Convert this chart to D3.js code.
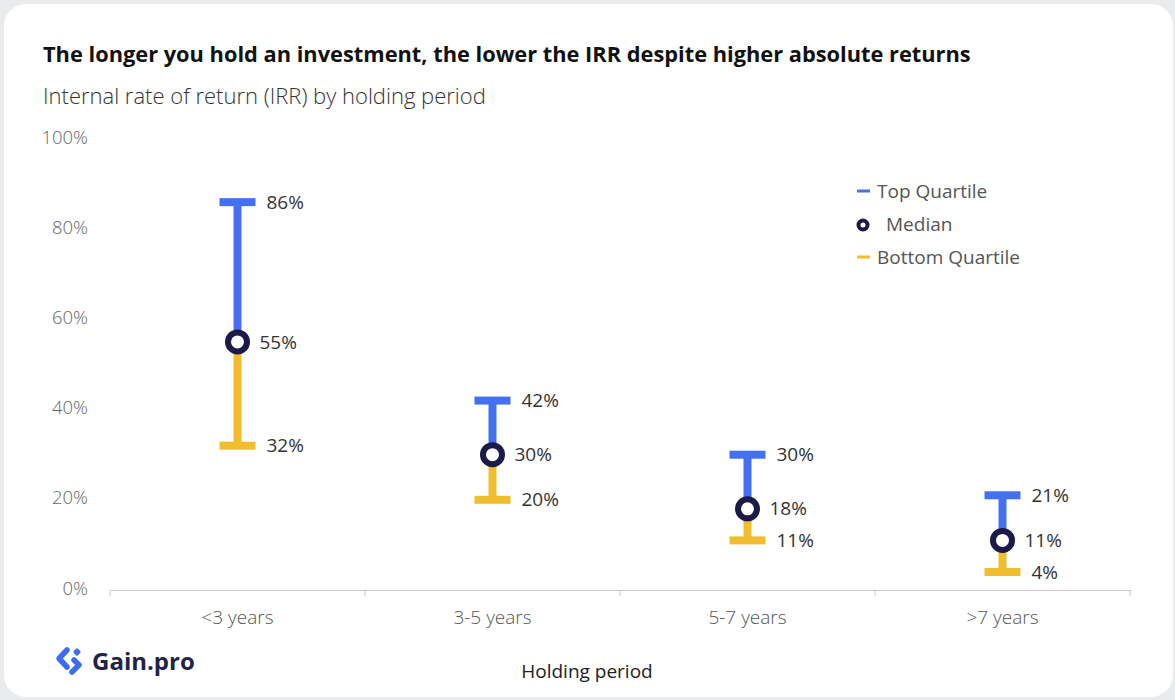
<!DOCTYPE html>
<html>
<head>
<meta charset="utf-8">
<script src="https://cdn.jsdelivr.net/npm/d3@7"></script>
<style>
  html, body { margin: 0; padding: 0; background: #e9ebed; }
  svg { display: block; }
  text { font-family: "Open Sans", "Noto Sans", sans-serif; }
</style>
</head>
<body>
<svg id="chart" width="1175" height="700"></svg>
<script>
// Holding period buckets and IRR quartiles (%)
const categories = ["<3 years", "3-5 years", "5-7 years", ">7 years"];
const topQuartile = [86, 42, 30, 21];
const median = [55, 30, 18, 11];
const bottomQuartile = [32, 20, 11, 4];
const yTicks = [0, 20, 40, 60, 80, 100];
const legendItems = ["Top Quartile", "Median", "Bottom Quartile"];

const colors = { top: "#4570f2", bottom: "#f0bd2f", median: "#1b1a48" };
const FONT = "'Open Sans', 'Noto Sans', sans-serif";

const svg = d3.select("#chart");

// white card
svg.append("rect")
  .attr("x", 4).attr("y", 4).attr("width", 1169).attr("height", 693)
  .attr("rx", 22).attr("fill", "#ffffff");

// headings
svg.append("text")
  .attr("x", 43).attr("y", 62)
  .attr("font-size", 21.8).attr("font-weight", 700).attr("fill", "#111")
  .text("The longer you hold an investment, the lower the IRR despite higher absolute returns");
svg.append("text")
  .attr("x", 43).attr("y", 104)
  .attr("font-size", 22).attr("font-weight", 300).attr("fill", "#333")
  .text("Internal rate of return (IRR) by holding period");

const x = d3.scaleBand().domain(categories).range([110, 1130]);
const y = d3.scaleLinear().domain([0, 100]).range([590, 139]);

// x axis
const xAxis = svg.append("g")
  .attr("transform", "translate(0,590)")
  .call(d3.axisBottom(x).tickSize(0).tickPadding(21));
xAxis.select(".domain").attr("stroke", "#c8c8c8").attr("stroke-width", 1);
xAxis.selectAll("text").attr("font-size", 19).attr("font-weight", 300)
  .attr("fill", "#555").attr("font-family", FONT);
// category separators
xAxis.selectAll(".sep")
  .data([...categories.map(c => x(c)), x.range()[1]])
  .join("line")
  .attr("class", "sep")
  .attr("x1", d => d).attr("x2", d => d)
  .attr("y1", 0).attr("y2", 6)
  .attr("stroke", "#c8c8c8");

// y axis (labels only)
const yAxis = svg.append("g")
  .attr("transform", "translate(88,0)")
  .call(d3.axisLeft(y).tickValues(yTicks).tickFormat(d => d + "%").tickSize(0).tickPadding(0));
yAxis.select(".domain").remove();
yAxis.selectAll("text").attr("font-size", 18.5).attr("font-weight", 300)
  .attr("fill", "#666").attr("dy", "0.22em").attr("font-family", FONT);

// axis title
svg.append("text")
  .attr("x", 587).attr("y", 678).attr("text-anchor", "middle")
  .attr("font-size", 19).attr("fill", "#222")
  .text("Holding period");

// range bars
const rows = categories.map((c, i) => ({
  c, top: topQuartile[i], med: median[i], bot: bottomQuartile[i]
}));
const cx = d => x(d.c) + x.bandwidth() / 2;
const g = svg.append("g");
const capW = 36, barW = 8, capH = 8;

rows.forEach(d => {
  const xc = cx(d);
  // upper stem
  g.append("rect").attr("x", xc - barW / 2).attr("width", barW)
    .attr("y", y(d.top)).attr("height", y(d.med) - y(d.top)).attr("fill", colors.top);
  // lower stem
  g.append("rect").attr("x", xc - barW / 2).attr("width", barW)
    .attr("y", y(d.med)).attr("height", y(d.bot) - y(d.med)).attr("fill", colors.bottom);
  // caps
  g.append("rect").attr("x", xc - capW / 2).attr("width", capW)
    .attr("y", y(d.top) - capH / 2).attr("height", capH).attr("fill", colors.top);
  g.append("rect").attr("x", xc - capW / 2).attr("width", capW)
    .attr("y", y(d.bot) - capH / 2).attr("height", capH).attr("fill", colors.bottom);
  // median marker
  g.append("circle").attr("cx", xc).attr("cy", y(d.med)).attr("r", 9.5)
    .attr("fill", "#fff").attr("stroke", colors.median).attr("stroke-width", 6);

  const lab = (val, dx) => g.append("text")
    .attr("x", xc + dx).attr("y", y(val)).attr("dy", "0.35em")
    .attr("font-size", 19).attr("fill", "#333").text(val + "%");
  lab(d.top, 29);
  lab(d.med, 22);
  lab(d.bot, 29);
});

// legend
const lg = svg.append("g");
const ly = [191, 224, 257];
lg.append("line").attr("x1", 857).attr("x2", 870).attr("y1", ly[0]).attr("y2", ly[0])
  .attr("stroke", colors.top).attr("stroke-width", 3);
lg.append("circle").attr("cx", 863).attr("cy", ly[1] + 1).attr("r", 4.5)
  .attr("fill", "#fff").attr("stroke", colors.median).attr("stroke-width", 4);
lg.append("line").attr("x1", 857).attr("x2", 870).attr("y1", ly[2]).attr("y2", ly[2])
  .attr("stroke", colors.bottom).attr("stroke-width", 3);
lg.selectAll("text").data(legendItems).join("text")
  .attr("x", (d, i) => i === 1 ? 886 : 877)
  .attr("y", (d, i) => ly[i]).attr("dy", "0.35em")
  .attr("font-size", 19).attr("fill", "#555").text(d => d);

// brand mark
const logo = svg.append("g").attr("transform", "translate(58,648)");
logo.append("path")
  .attr("d", "M9,2 L1,10.5 L9,19")
  .attr("fill", "none").attr("stroke", "#3d6cf3").attr("stroke-width", 5.5)
  .attr("stroke-linecap", "round").attr("stroke-linejoin", "round");
logo.append("path")
  .attr("d", "M16,12 L21,17 L14,24")
  .attr("fill", "none").attr("stroke", "#3d6cf3").attr("stroke-width", 5.5)
  .attr("stroke-linecap", "round").attr("stroke-linejoin", "round");
logo.append("rect").attr("x", 16).attr("y", 1).attr("width", 6).attr("height", 6)
  .attr("rx", 1.5).attr("fill", "#3d6cf3")
  .attr("transform", "rotate(45 19 4)");
svg.append("text")
  .attr("x", 92).attr("y", 670)
  .attr("font-size", 24).attr("font-weight", 700).attr("fill", "#23234a")
  .attr("font-family", "Inter, 'Open Sans', sans-serif")
  .text("Gain.pro");
</script>
</body>
</html>
